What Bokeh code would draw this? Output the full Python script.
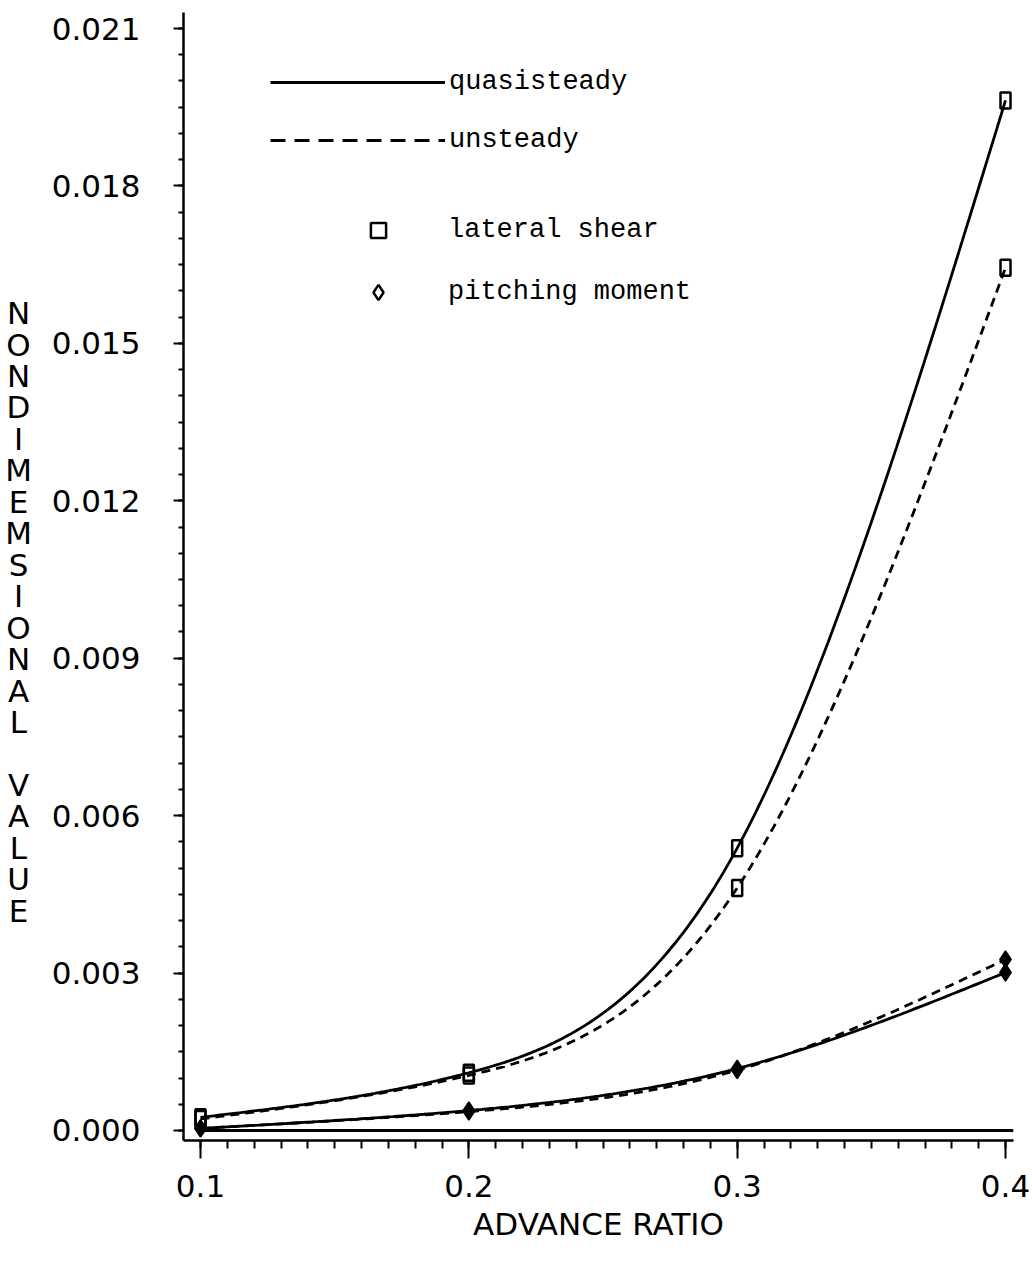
import numpy as np
from bokeh.plotting import figure
from bokeh.layouts import row
from bokeh.models import (Range1d, FixedTicker, PrintfTickFormatter, Legend,
                          LegendItem)
from bokeh.core.properties import value
from bokeh.embed import file_html
from bokeh.resources import INLINE

# ---------------- data ----------------
advance_ratio = [0.1, 0.2, 0.3, 0.4]
lat_shear_quasi = [0.00025, 0.00110, 0.00538, 0.01963]
lat_shear_unsteady = [0.00022, 0.00105, 0.00462, 0.01644]
pitch_quasi = [0.00004, 0.00038, 0.00118, 0.00301]
pitch_unsteady = [0.00004, 0.00036, 0.00115, 0.00326]
zero_line_y = [0.0, 0.0]

x_ticks = [0.1, 0.2, 0.3, 0.4]
y_ticks = [0.000, 0.003, 0.006, 0.009, 0.012, 0.015, 0.018, 0.021]
line_labels = ["quasisteady", "unsteady"]
marker_labels = ["lateral shear", "pitching moment"]
x_title = "ADVANCE RATIO"
y_title = "NONDIMEMSIONAL VALUE"

# ---------------- layout constants ----------------
W, H = 1032, 1270
TW = 40                                        # width of the strip holding the y title
FL, FR, FT, FB = 183, 1013, 12, 1140          # frame edges in page pixels
X0, X1 = 0.09366, 0.40298
Y0, Y1 = -0.000191, 0.021305

FONT = "DejaVu Sans"
MONO = "Liberation Mono"

# ---------------- stacked y title (upright letters, one per row) ----------------
# its frame is aligned with the main frame (rows FT..FB), so y is in page pixels
tf = figure(width=TW, height=H, x_range=Range1d(0, TW), y_range=Range1d(FB, FT),
            output_backend="svg", toolbar_location=None,
            min_border=0, min_border_left=0, min_border_right=0,
            min_border_top=FT, min_border_bottom=H - FB)
tf.axis.visible = False
tf.grid.visible = False
tf.outline_line_color = None
tf.background_fill_color = "white"
tf.border_fill_color = "white"

words = y_title.split(" ")
rows = list(words[0]) + [""] + list(words[1])
ROW0, PITCH = 312.6, 31.46
letters = [c for c in rows if c]
letter_y = [ROW0 + i * PITCH for i, c in enumerate(rows) if c]
tf.text(x=[18] * len(letters), y=letter_y, text=letters,
        text_align="center", text_baseline="middle",
        text_font=value(FONT), text_font_size="31px", text_color="black")

# ---------------- main figure ----------------
p = figure(width=W - TW, height=H, x_range=Range1d(X0, X1), y_range=Range1d(Y0, Y1),
           output_backend="svg", toolbar_location=None,
           min_border_left=FL - TW, min_border_right=W - FR,
           min_border_top=FT, min_border_bottom=H - FB)
p.outline_line_color = None
p.xgrid.visible = False
p.ygrid.visible = False
p.background_fill_color = "white"
p.border_fill_color = "white"

x_minor = list(np.round(np.arange(0.1, 0.4001, 0.01), 3))
y_minor = list(np.round(np.arange(0.0, 0.02101, 0.0005), 4))
p.xaxis.ticker = FixedTicker(ticks=x_ticks, minor_ticks=x_minor)
p.yaxis.ticker = FixedTicker(ticks=y_ticks, minor_ticks=y_minor)
p.xaxis.formatter = PrintfTickFormatter(format="%.1f")
p.yaxis.formatter = PrintfTickFormatter(format="%.3f")

for ax in (p.xaxis, p.yaxis):
    ax.axis_line_width = 2.5
    ax.axis_line_color = "black"
    ax.major_tick_line_width = 2
    ax.minor_tick_line_width = 2
    ax.major_tick_line_color = "black"
    ax.minor_tick_line_color = "black"
    ax.major_tick_in = 0
    ax.minor_tick_in = 0
    ax.major_label_text_font = FONT
    ax.major_label_text_font_size = "31px"
    ax.major_label_text_color = "black"

p.xaxis.major_tick_out = 18
p.xaxis.minor_tick_out = 8
p.xaxis.major_label_standoff = 16
p.xaxis.axis_label = x_title
p.xaxis.axis_label_text_font = FONT
p.xaxis.axis_label_text_font_size = "31px"
p.xaxis.axis_label_text_font_style = "normal"
p.xaxis.axis_label_text_color = "black"
p.xaxis.axis_label_standoff = 6

p.yaxis.major_tick_out = 10
p.yaxis.minor_tick_out = 5
p.yaxis.major_label_standoff = 33

# ---------------- curves (natural cubic spline through the points) ----------------
def natural_spline(xs, ys, n=60):
    xs = np.asarray(xs, float)
    ys = np.asarray(ys, float)
    k = len(xs)
    h = np.diff(xs)
    A = np.zeros((k, k))
    b = np.zeros(k)
    A[0, 0] = A[-1, -1] = 1.0
    for i in range(1, k - 1):
        A[i, i - 1] = h[i - 1]
        A[i, i] = 2 * (h[i - 1] + h[i])
        A[i, i + 1] = h[i]
        b[i] = 6 * ((ys[i + 1] - ys[i]) / h[i] - (ys[i] - ys[i - 1]) / h[i - 1])
    M = np.linalg.solve(A, b)
    out_x, out_y = [], []
    for i in range(k - 1):
        t = np.linspace(xs[i], xs[i + 1], n, endpoint=(i == k - 2))
        a = xs[i + 1] - t
        c = t - xs[i]
        s = (M[i] * a ** 3 + M[i + 1] * c ** 3) / (6 * h[i]) \
            + (ys[i] / h[i] - M[i] * h[i] / 6) * a \
            + (ys[i + 1] / h[i] - M[i + 1] * h[i] / 6) * c
        out_x.extend(t)
        out_y.extend(s)
    return out_x, out_y

DASH = "9 6"
LW = 2.8
p.line([x_ticks[0], X1], zero_line_y, line_color="black", line_width=LW)

for ys, dash in ((lat_shear_quasi, "solid"), (lat_shear_unsteady, DASH),
                 (pitch_quasi, "solid"), (pitch_unsteady, DASH)):
    xx, yy = natural_spline(advance_ratio, ys)
    p.line(xx, yy, line_color="black", line_width=LW, line_dash=dash)

for ys in (lat_shear_quasi, lat_shear_unsteady):
    p.rect(advance_ratio, ys, width=10, height=16, width_units="screen",
           height_units="screen", fill_alpha=0, line_color="black", line_width=2.5)
for ys in (pitch_quasi, pitch_unsteady):
    p.scatter(advance_ratio, ys, marker="diamond", size=17,
              fill_color="black", line_color="black", line_width=1.5)

# ---------------- legends ----------------
# legend proxies: placed beyond the visible ranges so only the legend swatch is drawn
px_ = [X1 + 1.0, X1 + 2.0]
py_ = [Y1 + 1.0, Y1 + 1.0]
leg_solid = p.line(px_, py_, line_color="black", line_width=LW)
leg_dash = p.line(px_, py_, line_color="black", line_width=LW, line_dash="15 9")
leg_sq = p.scatter(px_[:1], py_[:1], marker="square", fill_alpha=0,
                   line_color="black", line_width=2.5)
leg_dm = p.scatter(px_[:1], py_[:1], marker="diamond", fill_alpha=0,
                   line_color="black", line_width=2.5)

common = dict(padding=0, margin=0, border_line_color=None, background_fill_alpha=0,
              label_text_font=MONO, label_text_font_size="27px", label_text_color="black")

# Legend location = (left, bottom) measured from the frame's bottom-left corner
leg1 = Legend(items=[LegendItem(label=line_labels[0], renderers=[leg_solid]),
                     LegendItem(label=line_labels[1], renderers=[leg_dash])],
              location=(270 - FL, FB - 156), glyph_width=175, glyph_height=32,
              label_height=32, label_standoff=4, spacing=26, **common)
leg2 = Legend(items=[LegendItem(label=marker_labels[0], renderers=[leg_sq]),
                     LegendItem(label=marker_labels[1], renderers=[leg_dm])],
              location=(348 - FL, FB - 311), glyph_width=60, glyph_height=38,
              label_height=38, label_standoff=40, spacing=24, **common)
p.add_layout(leg1)
p.add_layout(leg2)

layout = row(tf, p, spacing=0)
open("out.html", "w").write(file_html(layout, INLINE))
